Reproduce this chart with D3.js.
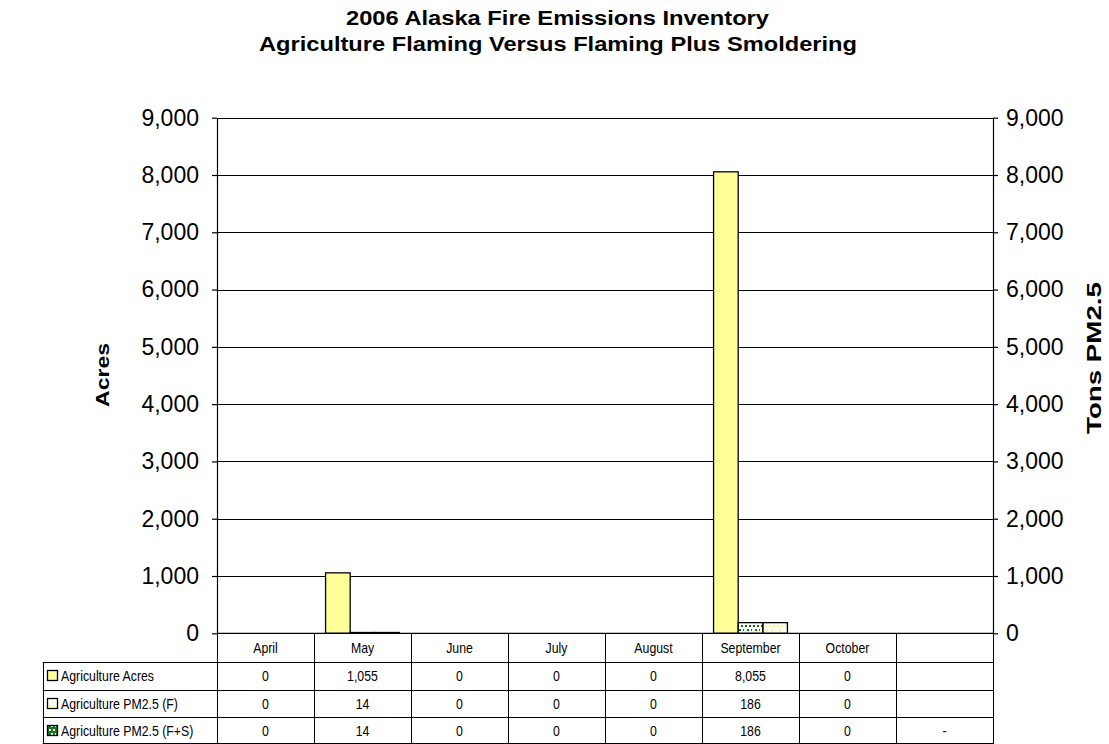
<!DOCTYPE html>
<html>
<head>
<meta charset="utf-8">
<script src="https://cdn.jsdelivr.net/npm/d3@7"></script>
<style>
  html, body { margin: 0; padding: 0; background: #fff; }
  svg { display: block; }
  text { font-family: "Liberation Sans", Arial, sans-serif; fill: #000; }
  .cell { font-size: 14px; }
</style>
</head>
<body>
<svg id="chart" width="1109" height="744"></svg>
<script>
// Monthly agriculture fire data, 2006
const categories = ["April", "May", "June", "July", "August", "September", "October", ""];
const acres      = [0, 1055, 0, 0, 0, 8055, 0, null];
const pmFlaming  = [0, 14, 0, 0, 0, 186, 0, null];
const pmFlamSmol = [0, 14, 0, 0, 0, 186, 0, null];
const yTicks     = [0, 1000, 2000, 3000, 4000, 5000, 6000, 7000, 8000, 9000];

const series = [
  { key: "acres", name: "Agriculture Acres",        values: acres,      fill: "#FFFF99",          legend: "#FFFF99",          missing: "" },
  { key: "f",     name: "Agriculture PM2.5 (F)",    values: pmFlaming,  fill: "url(#dotsYellow)", legend: "url(#iconYellow)", missing: "" },
  { key: "fs",    name: "Agriculture PM2.5 (F+S)",  values: pmFlamSmol, fill: "url(#dotsGreen)",  legend: "url(#iconGreen)",  missing: "-" }
];
// drawing order of the bars inside each month
const barOrder = ["acres", "fs", "f"];

const svg = d3.select("#chart");
const plotLeft = 217, plotRight = 993, plotTop = 117.7, plotBottom = 633.3;
const narrow = 0.88; // horizontal squeeze for the table text

// patterns
const defs = svg.append("defs");
function dotPattern(id, bg, dot, size) {
  const p = defs.append("pattern").attr("id", id).attr("patternUnits", "userSpaceOnUse")
    .attr("width", size * 2).attr("height", size * 2);
  p.append("rect").attr("width", size * 2).attr("height", size * 2).attr("fill", bg);
  const d = size / 2;
  p.append("rect").attr("x", 1).attr("y", 1).attr("width", d).attr("height", d).attr("fill", dot);
  p.append("rect").attr("x", 1 + size).attr("y", 1).attr("width", d).attr("height", d).attr("fill", dot);
  p.append("rect").attr("x", 1 + size / 2).attr("y", 1 + size).attr("width", d).attr("height", d).attr("fill", dot);
  p.append("rect").attr("x", 1 + size * 1.5).attr("y", 1 + size).attr("width", d).attr("height", d).attr("fill", dot);
}
dotPattern("dotsGreen", "#fff", "#008000", 4);
dotPattern("dotsYellow", "#fff", "#FFFF66", 4);
dotPattern("iconGreen", "#1a7a1a", "#ffffff", 4);
dotPattern("iconYellow", "#fff", "#FFFF66", 4);

const x = d3.scaleBand().domain(d3.range(categories.length)).range([plotLeft, plotRight]).paddingInner(0).paddingOuter(0);
const xs = d3.scaleBand().domain(barOrder).range([0, x.bandwidth()]).paddingInner(0).paddingOuter(0.47);
const y = d3.scaleLinear().domain([0, 9000]).range([plotBottom, plotTop]);

// title (wide lettering)
function wideText(txt, cx, cy, len, size, rotate) {
  return svg.append("text")
    .attr("transform", `translate(${cx},${cy})` + (rotate ? " rotate(-90)" : ""))
    .attr("text-anchor", "middle").attr("font-size", size).attr("font-weight", "bold")
    .attr("textLength", len).attr("lengthAdjust", "spacingAndGlyphs").text(txt);
}
wideText("2006 Alaska Fire Emissions Inventory", 557.5, 25, 423, 19.5);
wideText("Agriculture Flaming Versus Flaming Plus Smoldering", 558, 51, 598, 19.5);

// gridlines
svg.append("g").selectAll("line").data(yTicks.filter(t => t > 0)).join("line")
  .attr("x1", plotLeft).attr("x2", plotRight)
  .attr("y1", d => Math.round(y(d)) + 0.5).attr("y2", d => Math.round(y(d)) + 0.5)
  .attr("stroke", "#000").attr("stroke-width", 1);

// bars
const g = svg.append("g");
series.forEach(s => {
  g.selectAll(null).data(s.values.map((v, i) => ({ v, i })).filter(d => d.v != null)).join("rect")
    .attr("x", d => x(d.i) + xs(s.key))
    .attr("width", xs.bandwidth())
    .attr("y", d => y(d.v))
    .attr("height", d => y(0) - y(d.v))
    .attr("fill", s.fill)
    .attr("stroke", "#000").attr("stroke-width", 1.3);
});

// axes
const fmt = d3.format(",");
const yl = d3.axisLeft(y).tickValues(yTicks).tickFormat(fmt).tickSizeInner(5).tickSizeOuter(0).tickPadding(13);
const yr = d3.axisRight(y).tickValues(yTicks).tickFormat(fmt).tickSizeInner(5).tickSizeOuter(0).tickPadding(8);
const gl = svg.append("g").attr("transform", `translate(${plotLeft},0)`).call(yl);
const gr = svg.append("g").attr("transform", `translate(${plotRight},0)`).call(yr);
[gl, gr].forEach(a => {
  a.selectAll("text").attr("font-size", 23).attr("font-family", "Liberation Sans, Arial, sans-serif").attr("fill", "#000");
  a.selectAll("line, path").attr("stroke", "#000").attr("stroke-width", 1.2);
});

// x baseline
svg.append("line").attr("x1", plotLeft).attr("x2", plotRight).attr("y1", plotBottom).attr("y2", plotBottom)
  .attr("stroke", "#000").attr("stroke-width", 1.3);

// axis titles
wideText("Acres", 109, 375, 64, 19, true);
wideText("Tons PM2.5", 1101, 358, 152, 20, true);

// data table
const rowTop = [plotBottom, 662.3, 690.3, 717.3];
const rowBottom = 744;
const tableLeft = 42.7;
const t = svg.append("g");
function cell(txt, cx, cy, anchor) {
  return t.append("text").attr("class", "cell")
    .attr("transform", `translate(${cx},${cy}) scale(${narrow},1)`)
    .attr("text-anchor", anchor).text(txt);
}
// category header labels
categories.forEach((c, i) => cell(c, x(i) + x.bandwidth() / 2, 653, "middle"));
// vertical lines through header and rows
t.selectAll("line.v").data(d3.range(categories.length + 1)).join("line")
  .attr("x1", i => Math.round(i < categories.length ? x(i) : plotRight) + 0.5)
  .attr("x2", i => Math.round(i < categories.length ? x(i) : plotRight) + 0.5)
  .attr("y1", plotBottom).attr("y2", rowBottom).attr("stroke", "#000").attr("stroke-width", 1);
// horizontal row lines
rowTop.slice(1).forEach(yy => {
  t.append("line").attr("x1", tableLeft).attr("x2", plotRight).attr("y1", Math.round(yy) + 0.5).attr("y2", Math.round(yy) + 0.5)
    .attr("stroke", "#000").attr("stroke-width", 1);
});
t.append("line").attr("x1", Math.round(tableLeft) + 0.5).attr("x2", Math.round(tableLeft) + 0.5)
  .attr("y1", Math.round(rowTop[1]) + 0.5).attr("y2", rowBottom).attr("stroke", "#000");
t.append("line").attr("x1", tableLeft).attr("x2", plotRight).attr("y1", 743.5).attr("y2", 743.5).attr("stroke", "#000");

series.forEach((s, r) => {
  const yTop = rowTop[r + 1], yBot = r + 2 < rowTop.length ? rowTop[r + 2] : rowBottom;
  const cy = (yTop + yBot) / 2;
  t.append("rect").attr("x", 47.5).attr("y", Math.round(cy) - 5.5).attr("width", 10).attr("height", 10)
    .attr("fill", s.legend).attr("stroke", "#000").attr("stroke-width", 1.3);
  cell(s.name, 61, cy + 5, "start");
  s.values.forEach((v, i) => cell(v == null ? s.missing : fmt(v), x(i) + x.bandwidth() / 2, cy + 5, "middle"));
});
</script>
</body>
</html>
